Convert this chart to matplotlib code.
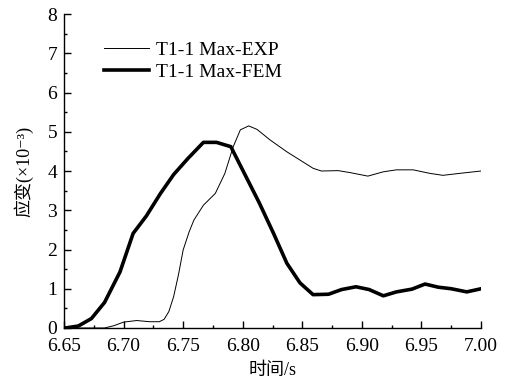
import matplotlib.pyplot as plt
from matplotlib.ticker import MultipleLocator

plt.rcParams['font.family'] = ['Liberation Serif', 'Noto Sans CJK SC', 'DejaVu Serif']

# EXP measured curve (thin)
t_exp = [6.650, 6.684, 6.692, 6.700, 6.711, 6.722, 6.730, 6.734, 6.738, 6.742,
         6.746, 6.750, 6.755, 6.759, 6.767, 6.777, 6.785, 6.792, 6.798, 6.805,
         6.812, 6.823, 6.837, 6.848, 6.859, 6.866, 6.880, 6.890, 6.905, 6.918,
         6.929, 6.943, 6.957, 6.968, 6.982, 7.000]
s_exp = [0.00, 0.00, 0.06, 0.15, 0.19, 0.16, 0.16, 0.22, 0.42, 0.80,
         1.35, 1.99, 2.45, 2.75, 3.13, 3.43, 3.94, 4.62, 5.05, 5.15,
         5.06, 4.79, 4.49, 4.28, 4.07, 4.00, 4.01, 3.96, 3.87, 3.98,
         4.03, 4.03, 3.94, 3.89, 3.94, 4.00]

# FEM curve (thick)
t_fem = [6.651, 6.662, 6.673, 6.684, 6.697, 6.708, 6.719, 6.731, 6.742, 6.754,
         6.767, 6.778, 6.790, 6.802, 6.814, 6.826, 6.837, 6.848, 6.859, 6.872,
         6.883, 6.895, 6.906, 6.918, 6.929, 6.942, 6.953, 6.964, 6.975, 6.988,
         7.000]
s_fem = [0.00, 0.05, 0.24, 0.65, 1.43, 2.41, 2.85, 3.43, 3.91, 4.32,
         4.73, 4.73, 4.62, 3.90, 3.18, 2.40, 1.65, 1.15, 0.85, 0.86,
         0.98, 1.05, 0.98, 0.82, 0.92, 0.99, 1.12, 1.04, 1.00, 0.92,
         1.00]

fig = plt.figure(figsize=(5.08, 3.90), dpi=100)
ax = fig.add_axes([0.126, 0.159, 0.821, 0.805])

ax.plot(t_exp, s_exp, color='black', linewidth=0.7, label='T1-1 Max-EXP')
ax.plot(t_fem, s_fem, color='black', linewidth=2.6, label='T1-1 Max-FEM')

ax.set_xlim(6.65, 7.00)
ax.set_ylim(0, 8)
ax.xaxis.set_major_locator(MultipleLocator(0.05))
ax.xaxis.set_minor_locator(MultipleLocator(0.025))
ax.yaxis.set_major_locator(MultipleLocator(1))
ax.yaxis.set_minor_locator(MultipleLocator(0.5))
ax.xaxis.set_major_formatter(plt.FormatStrFormatter('%.2f'))

for side in ['top', 'right']:
    ax.spines[side].set_visible(False)
for side in ['left', 'bottom']:
    ax.spines[side].set_linewidth(1.0)

ax.tick_params(which='both', direction='in', labelsize=14, width=1.0)
ax.tick_params(which='major', length=5)
ax.tick_params(which='minor', length=2.5)
ax.tick_params(axis='x', pad=7)
ax.tick_params(axis='y', pad=5)

ax.set_xlabel('时间/s', fontsize=13, labelpad=5)
ax.set_ylabel('应变(×10⁻³)', fontsize=13, labelpad=10)

ax.legend(loc='upper left', bbox_to_anchor=(0.055, 0.97), frameon=False,
          fontsize=14, handlelength=2.3, handletextpad=0.35, labelspacing=0.25)

fig.savefig('out.png', dpi=100)
